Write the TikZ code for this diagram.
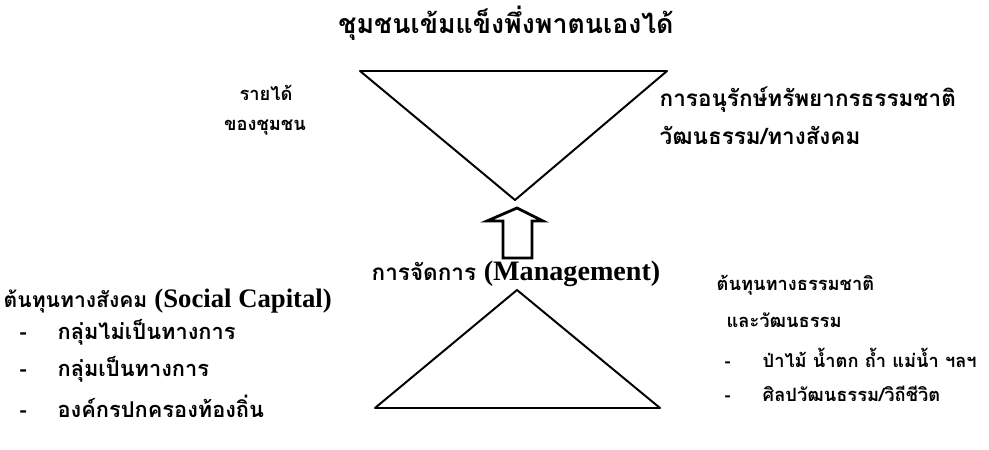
\documentclass[tikz,border=0pt]{standalone}
\usepackage{fontspec}
\setmainfont{Liberation Serif}
\newfontfamily\thaifont[Script=Thai]{Loma}
\usetikzlibrary{positioning}
\tikzset{
  thaitext/.style={font={\thaifont\bfseries\fontsize{#1}{#1}\selectfont}, inner sep=1pt, anchor=west},
  thaitext/.default=13,
  listitem/.style={thaitext=#1},
  sidetext/.style={thaitext=13, anchor=center},
  titletext/.style={font={\thaifont\bfseries\fontsize{19}{23}\selectfont}, inner sep=1pt},
  mgmttext/.style={font={\thaifont\bfseries\fontsize{16}{19}\selectfont}, inner sep=1pt},
  funnel/.style={draw, line width=1.4pt, line join=round},
  uparrow/.style={draw, line width=2pt, line join=miter}
}
\newcommand{\dashitem}[1]{\makebox[27pt][l]{-}#1}
\newcommand{\latinpart}[2]{{\rmfamily\fontsize{#1}{#1}\selectfont #2}}

\begin{document}
\begin{tikzpicture}[x=0.025cm, y=-0.025cm]
  \useasboundingbox (0,0) rectangle (989,449);
  % title
  \node[titletext] (title) at (506,23) {ชุมชนเข้มแข็งพึ่งพาตนเองได้};
  % upper funnel
  \coordinate (ua) at (360,71);
  \coordinate (ub) at (667,71);
  \coordinate (uc) at (515,200);
  \draw[funnel] (ua) -- (ub) -- (uc) -- cycle;
  \node[sidetext] (inc1) at (266,93) {รายได้};
  \node[sidetext] (inc2) at (265,128) {ของชุมชน};
  \node[thaitext=16] (cons1) at (658,100) {การอนุรักษ์ทรัพยากรธรรมชาติ};
  \node[thaitext=16] (cons2) at (658,135) {วัฒนธรรม/ทางสังคม};
  % arrow
  \draw[uparrow] (503,258) -- (503,221) -- (487,221) -- (517,208)
    -- (543,221) -- (532,221) -- (532,258) -- cycle;
  \node[mgmttext] (mgmt) at (516,274) {การจัดการ \latinpart{20}{(Management)}};
  % lower funnel
  \coordinate (la) at (517,290);
  \coordinate (lb) at (660,408);
  \coordinate (lc) at (375,408);
  \draw[funnel] (la) -- (lb) -- (lc) -- cycle;
  % social capital
  \node[thaitext=15] (soc) at (2,301) {ต้นทุนทางสังคม \latinpart{19}{(Social Capital)}};
  \node[listitem=15.5] (soc1) at (18,332) {\dashitem{กลุ่มไม่เป็นทางการ}};
  \node[listitem=15.5] (soc2) at (18,369) {\dashitem{กลุ่มเป็นทางการ}};
  \node[listitem=15.5] (soc3) at (18,406) {\dashitem{องค์กรปกครองท้องถิ่น}};
  % natural capital
  \node[thaitext=13] (nat) at (715,285) {ต้นทุนทางธรรมชาติ};
  \node[thaitext=13] (nat0) at (725,320) {และวัฒนธรรม};
  \node[listitem=13] (nat1) at (723,358) {\dashitem{ป่าไม้ น้ำตก ถ้ำ แม่น้ำ ฯลฯ}};
  \node[listitem=13] (nat2) at (723,394) {\dashitem{ศิลปวัฒนธรรม/วิถีชีวิต}};
\end{tikzpicture}
\end{document}
